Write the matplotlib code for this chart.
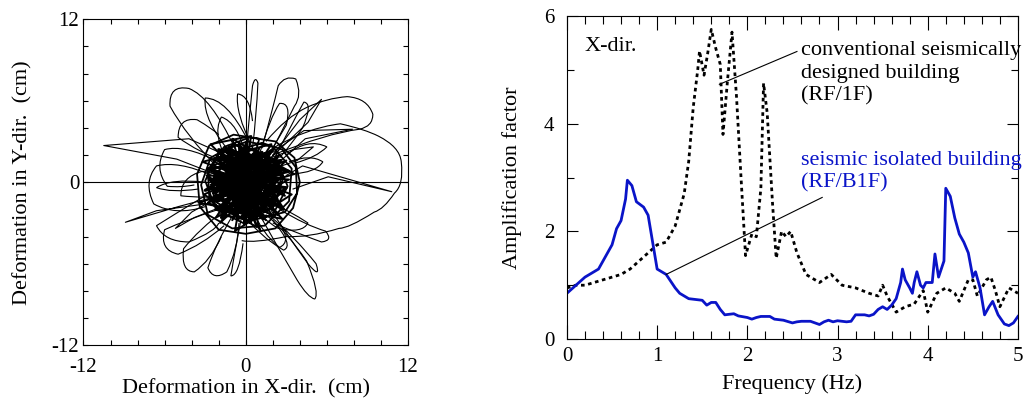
import numpy as np
import matplotlib
matplotlib.use("Agg")
import matplotlib.pyplot as plt
from matplotlib.ticker import MultipleLocator
from matplotlib.path import Path
from matplotlib.patches import PathPatch

plt.rcParams['font.family'] = ['Liberation Serif', 'DejaVu Serif']
plt.rcParams['axes.unicode_minus'] = False

# ---- right panel: amplification factor vs frequency ----
iso_f = [0.0, 0.1, 0.2, 0.3, 0.35, 0.4, 0.45, 0.5, 0.55, 0.6, 0.65, 0.67, 0.72, 0.77,
         0.85, 0.9, 0.95, 1.0, 1.05, 1.1, 1.2, 1.25, 1.3, 1.35, 1.5, 1.55, 1.6, 1.65,
         1.7, 1.75, 1.85, 1.9, 2.0, 2.05, 2.1, 2.15, 2.25, 2.3, 2.4, 2.5, 2.55, 2.6,
         2.7, 2.8, 2.85, 2.9, 2.95, 3.0, 3.1, 3.15, 3.2, 3.3, 3.35, 3.4, 3.45, 3.5,
         3.55, 3.6, 3.65, 3.7, 3.72, 3.75, 3.8, 3.83, 3.85, 3.88, 3.92, 3.95, 3.98,
         4.05, 4.08, 4.12, 4.18, 4.2, 4.25, 4.3, 4.35, 4.4, 4.45, 4.5, 4.53, 4.58,
         4.63, 4.68, 4.72, 4.78, 4.85, 4.9, 4.95, 5.0]
iso_amp = [0.85, 1.0, 1.15, 1.25, 1.3, 1.45, 1.6, 1.75, 2.05, 2.2, 2.6, 2.95, 2.85, 2.55,
           2.45, 2.3, 1.8, 1.3, 1.25, 1.2, 0.95, 0.85, 0.8, 0.75, 0.72, 0.63, 0.68, 0.68,
           0.55, 0.45, 0.47, 0.43, 0.4, 0.37, 0.4, 0.42, 0.42, 0.37, 0.35, 0.3, 0.32, 0.33,
           0.33, 0.27, 0.32, 0.35, 0.32, 0.34, 0.32, 0.33, 0.45, 0.45, 0.43, 0.46, 0.55, 0.6,
           0.55, 0.63, 0.75, 1.05, 1.3, 1.1, 0.95, 0.85, 1.05, 1.25, 1.0, 0.95, 1.05,
           1.05, 1.58, 1.15, 1.45, 2.8, 2.65, 2.25, 1.95, 1.8, 1.6, 1.15, 1.25, 0.95,
           0.45, 0.6, 0.7, 0.45, 0.28, 0.25, 0.3, 0.42]

conv_f = [0.0, 0.1, 0.2, 0.3, 0.4, 0.5, 0.6, 0.7, 0.8, 0.9, 1.0, 1.1, 1.2, 1.3, 1.35,
          1.4, 1.45, 1.47, 1.52, 1.56, 1.6, 1.65, 1.7, 1.73, 1.78, 1.83, 1.88, 1.93,
          1.98, 2.05, 2.1, 2.15, 2.18, 2.22, 2.28, 2.32, 2.38, 2.43, 2.48, 2.55, 2.65,
          2.8, 2.93, 3.05, 3.2, 3.35, 3.45, 3.5, 3.55, 3.65, 3.75, 3.85, 3.95, 4.0,
          4.1, 4.2, 4.3, 4.35, 4.45, 4.5, 4.55, 4.65, 4.7, 4.75, 4.8, 4.9, 5.0]
conv_amp = [0.95, 1.0, 1.0, 1.05, 1.1, 1.15, 1.2, 1.3, 1.45, 1.6, 1.75, 1.8, 2.1, 2.7, 3.3,
            4.3, 5.0, 5.35, 4.9, 5.3, 5.75, 5.4, 5.1, 3.8, 4.8, 5.7, 4.5, 3.0,
            1.55, 1.95, 1.9, 2.8, 4.75, 4.2, 2.5, 1.5, 2.0, 1.9, 2.0, 1.6, 1.2,
            1.05, 1.2, 1.0, 0.95, 0.85, 0.8, 1.0, 0.8, 0.5, 0.6, 0.65, 0.9, 0.5,
            0.85, 0.95, 0.85, 0.7, 1.1, 1.1, 0.8, 1.1, 1.15, 0.9, 0.6, 0.95, 0.85]

# ---- left panel: deformation orbit (cm), traced by hand ----
core = [(0, 0), (1.5, 1.2), (2.8, 0.4), (2.2, -1.5), (0.4, -2.2), (-1.6, -1.4), (-2.4, 0.3),
        (-1.2, 1.9), (0.6, 2.4), (2.3, 1.6), (3.1, -0.3), (2.0, -2.4), (-0.2, -3.0),
        (-2.2, -2.0), (-3.0, 0.1), (-2.0, 2.2), (0.1, 3.0), (2.0, 2.6), (3.4, 1.0),
        (3.2, -1.4), (1.4, -3.2), (-1.0, -3.4), (-2.8, -2.4), (-3.3, -0.2), (-2.6, 1.8),
        (-0.8, 2.8), (1.0, 1.6), (1.6, 0.2), (0.8, -1.2), (-0.6, -1.6), (-1.4, -0.4),
        (-0.8, 0.9), (0.5, 1.1), (1.1, -0.1), (0.3, -0.9), (-0.7, -0.5), (-0.4, 0.6),
        (0.9, 0.8), (1.9, -0.6), (1.0, -2.0), (-0.9, -2.3), (-2.2, -0.9), (-1.9, 1.1),
        (-0.3, 1.9), (1.6, 1.9), (2.6, 0.9), (2.5, -0.9), (1.2, -1.7), (-0.3, -1.2),
        (-1.0, 0.1), (-0.2, 1.3), (1.3, 1.0), (2.0, -0.1), (1.5, -1.2), (0.1, -1.6),
        (-1.3, -1.1), (-1.6, 0.5), (-0.6, 1.5), (0.8, 1.7), (2.0, 0.8), (2.6, -0.5),
        (1.8, -1.9), (0.2, -2.6), (-1.5, -2.5), (-2.7, -1.1), (-2.8, 0.9), (-1.6, 2.6),
        (0.3, 3.3), (2.2, 3.0), (3.6, 1.8), (4.0, 0.0), (3.5, -1.9), (2.2, -3.4),
        (0.0, -3.8), (-2.0, -3.5), (-3.4, -1.8), (-3.6, 0.6), (-2.7, 2.7), (-0.9, 3.5),
        (1.0, 3.2), (0.4, 1.0), (-0.2, -0.2), (0.6, -0.6), (0.2, 0.4), (-0.5, -0.9),
        (-0.1, -2.0), (1.3, -2.6), (2.9, -2.2), (3.8, -0.8), (3.7, 1.1), (2.7, 2.4),
        (1.2, 2.9), (-0.4, 2.4), (-1.2, 1.2), (-1.0, -0.8), (-0.1, -1.8), (0.7, -0.3),
        (-0.6, 0.3), (0.3, 0.7), (-0.3, -0.6), (0.5, 0.1), (-1.1, -0.2), (0.0, 1.6),
        (1.8, 1.3), (2.2, -1.1), (0.2, -2.9), (-2.4, -1.6), (-2.3, 1.3), (0.5, 2.0),
        (1.4, 0.5), (0.9, -0.8), (-0.4, -1.3), (-1.8, 0.0), (-0.2, 0.9), (1.0, 0.3)]

core_cross = [(-2.5, -0.5), (2.8, 0.9), (-1.8, 2.0), (1.5, -2.8), (-2.6, 1.0), (2.9, -1.0),
              (-0.5, 2.6), (0.4, -3.0), (-2.8, -1.5), (2.5, 2.0), (-1.0, -2.8), (1.0, 2.5),
              (-2.2, -2.6), (3.2, 0.2), (-2.9, 0.5), (2.0, -2.5), (-1.4, 2.4), (0.9, -2.4),
              (-2.0, -1.2), (2.4, 1.3), (-1.2, -2.0), (1.8, 2.2), (-2.4, 1.6), (2.6, -1.8),
              (-0.2, 2.2), (-0.6, -2.8), (2.2, 0.2), (-2.6, -0.2), (1.2, 1.9), (-1.5, -1.8),
              (2.0, -1.4), (-1.7, 1.4), (0.6, -1.9), (0.0, 2.4), (-2.3, -1.0), (2.7, 0.6),
              (-0.9, 1.8), (1.4, -2.2), (-2.0, 0.2), (1.6, 1.4), (-0.4, -2.3), (2.3, -0.6),
              (-1.3, 2.7), (0.8, -3.3), (-3.1, -0.9), (3.0, 1.6), (-1.9, -3.0), (1.9, 2.8),
              (-3.2, 1.5), (3.4, -0.9), (-0.8, -3.6), (0.4, 3.4), (-2.6, 2.8), (2.7, -2.7),
              (-3.5, -1.5), (3.6, 0.6), (-1.0, 3.2), (1.1, -3.6), (-2.2, 2.0), (2.2, -1.0),
              (-1.1, 0.5), (1.0, -0.5), (-0.5, 1.1), (0.6, -1.3), (-1.6, -0.6), (1.7, 0.7),
              (-0.7, -1.7), (0.4, 1.6), (-1.5, 0.9), (1.3, -1.5), (0.1, 0.0)]

core_dense = [(-2.2, 0.8), (2.4, -0.6), (-1.6, -1.9), (1.2, 2.2), (-2.4, -0.8), (2.2, 1.0),
              (-0.8, -2.4), (0.2, 2.4), (-2.0, 1.6), (2.0, -1.8), (-1.2, 2.0), (1.6, -2.2),
              (-2.5, 0.0), (2.5, 0.3), (-0.2, -2.5), (-0.4, 2.3), (-2.1, -1.4), (1.8, 1.7),
              (-1.7, 1.2), (1.4, -1.6), (-2.3, 0.4), (2.3, -1.2), (-0.6, -2.1), (0.8, 2.3),
              (-1.9, -0.3), (1.9, 0.4), (-1.0, 1.7), (1.0, -2.4), (-2.2, -2.0), (2.6, 1.6),
              (-2.8, 1.0), (2.8, -2.0), (-0.5, 2.8), (0.4, -2.8), (-1.4, 0.0), (1.5, 0.0),
              (-0.9, -1.2), (0.9, 1.2), (-1.1, 1.3), (1.1, -1.0), (-2.6, -1.4), (2.7, 1.0),
              (-1.5, 2.5), (1.3, -2.7), (-2.7, 0.2), (3.0, -0.4), (-0.1, -3.1), (0.1, 3.0),
              (-1.8, -2.6), (2.0, 2.4), (-3.0, -0.6), (3.2, 0.8), (-2.0, 2.4), (2.4, -2.4),
              (0.0, 0.0)]

spikes = [
    [(-1.5, 2.0), (-4.2, 3.2), (-10.5, 2.7), (-5.1, 1.7), (-2.0, 0.5)],
    [(2.0, 2.0), (4.0, 4.6), (5.6, 6.1), (4.6, 4.4), (1.0, 1.0)],
    [(3.0, 0.5), (4.2, 1.2), (10.8, -0.7), (6.1, 0.4), (3.5, -0.5)],
    [(-2.0, -1.0), (-5.0, -1.8), (-8.9, -2.95), (-6.6, -2.1), (-3.0, -1.6)],
    [(2.0, 2.2), (4.3, 3.8), (7.9, 3.9), (4.4, 3.2), (2.5, 1.5)],
    [(1.0, 1.5), (3.5, 2.4), (5.0, 2.6), (3.8, 1.6), (1.5, 0.8)],
    [(-1.0, -1.5), (-3.8, -2.6), (-5.2, -3.4), (-4.0, -2.2), (-1.5, -0.8)],
]

loops = [
    [(-2.0, 1.0), (-4.4, 3.4), (-5.6, 5.6), (-5.7, 7.2), (-4.2, 6.9),
     (-2.6, 6.3), (-0.8, 2.5)],
    [(-1.0, 2.0), (-3.2, 4.6), (-3.0, 6.2), (-1.4, 6.2), (0.2, 3.0)],
    [(0.0, 2.0), (0.3, 5.2), (0.5, 7.1), (0.7, 7.9), (0.9, 7.3), (0.8, 5.0), (0.5, 2.5)],
    [(1.2, 2.5), (2.0, 5.4), (2.4, 7.1), (2.9, 7.9), (3.7, 7.6), (4.2, 6.4), (3.6, 5.6),
     (2.7, 3.8), (1.5, 1.5)],
    [(1.5, 3.0), (3.0, 4.8), (4.5, 5.5), (6.0, 6.2), (7.5, 6.3), (9.0, 6.2), (9.4, 5.0),
     (9.4, 4.1), (8.4, 3.9), (6.0, 3.6), (2.0, 2.0)],
    [(2.0, 2.5), (4.5, 4.0), (7.0, 4.3), (8.8, 3.9), (9.8, 3.4), (11.4, 2.6), (11.5, 1.5),
     (11.7, -0.2), (11.0, -0.8), (10.2, -2.0), (9.5, -2.2), (7.6, -3.4), (6.9, -3.4),
     (4.6, -4.1), (3.0, -4.0), (0.6, -4.5), (-0.3, -4.3)],
    [(3.2, 1.5), (4.8, 2.1), (5.7, 1.5), (5.2, 0.7), (3.4, 0.6)],
    [(3.0, 2.0), (4.6, 3.3), (6.0, 2.6), (5.2, 1.8), (3.6, 1.4)],
    [(1.5, -1.5), (3.0, -3.8), (4.6, -6.0), (5.6, -7.2), (5.2, -6.0), (3.6, -4.0), (1.8, -2.5)],
    [(0.8, -2.0), (2.2, -4.5), (3.8, -7.2), (4.6, -8.5), (5.1, -8.6), (5.5, -8.2),
     (4.5, -5.8), (3.0, -3.6), (1.5, -2.4)],
    [(2.5, -2.0), (4.5, -3.2), (5.9, -3.6), (6.5, -4.3), (5.6, -4.4), (4.2, -3.9), (2.0, -3.0)],
    [(-2.5, 0.5), (-5.0, 1.6), (-6.6, 1.2), (-7.6, 0.0), (-6.8, -1.6), (-5.2, -2.5), (-3.0, -1.8)],
    [(-3.0, 0.0), (-5.5, 0.3), (-6.6, -0.4), (-5.5, -0.8), (-3.5, -0.5)],
    [(-2.0, 1.5), (-4.6, 2.8), (-6.0, 2.4), (-6.8, 1.0), (-5.8, -0.3), (-4.8, -0.4), (-3.8, -0.2)],
    [(-1.5, -2.0), (-3.5, -3.5), (-4.6, -4.9), (-4.8, -6.6), (-3.8, -6.6), (-2.6, -5.8), (-1.8, -4.0)],
    [(-1.0, -2.5), (-2.2, -4.5), (-2.8, -6.3), (-2.4, -7.3), (-1.4, -6.6), (-0.6, -5.0), (-0.5, -3.0)],
    [(-0.3, -2.5), (-0.8, -5.0), (-1.1, -6.9), (-0.5, -6.9), (-0.2, -4.5)],
    [(-2.0, -2.0), (-4.5, -2.8), (-6.0, -3.5), (-6.4, -5.0), (-5.0, -5.3), (-3.2, -4.6), (-1.6, -3.2)],
    [(-3.0, -1.0), (-5.5, -2.5), (-6.6, -3.2), (-6.0, -4.4), (-4.2, -4.4), (-2.2, -3.6), (-2.0, -3.0)],
    [(-1.5, 1.5), (-3.5, 2.2), (-5.0, 3.3), (-5.0, 4.8), (-3.6, 4.6), (-2.4, 3.9), (-2.0, 3.5)],
    [(1.0, 2.0), (1.8, 4.8), (2.5, 5.8), (3.4, 5.9), (3.0, 4.2), (2.4, 3.2), (1.8, 2.2)],
    [(0.5, 2.5), (-0.8, 5.2), (-0.6, 6.5), (0.3, 6.4), (0.5, 4.5)],
    [(2.0, 1.5), (3.5, 4.5), (4.3, 5.9), (5.0, 5.8), (4.2, 4.0), (3.4, 2.8), (2.5, 1.8)],
    [(0.5, -2.0), (1.2, -3.8), (2.5, -4.8), (3.4, -4.4), (2.5, -3.0)],
    [(-0.5, -2.0), (1.0, -4.0), (2.8, -5.0), (3.6, -4.7), (2.0, -2.8)],
    [(-1.0, 1.0), (-2.6, 3.4), (-1.8, 4.8), (-0.6, 4.4), (0.0, 2.0)],
    [(1.0, -1.0), (3.4, -2.2), (4.6, -3.0), (4.2, -3.8), (2.4, -3.4), (1.0, -2.6), (0.5, -1.5)],
    [(-1.0, -1.0), (-3.0, -1.2), (-4.8, -1.0), (-4.8, 0.4), (-3.2, 0.8), (-2.0, 0.6), (-1.2, 0.2)],
]


def smooth_loop(pts):
    # typed points alternate on-curve / control for quadratic segments
    if (len(pts) - 1) % 2:
        pts = pts + [pts[-1]]
    codes = [Path.MOVETO] + [Path.CURVE3] * (len(pts) - 1)
    return PathPatch(Path(pts, codes), fill=False, edgecolor='black', lw=0.8)


fig = plt.figure(figsize=(10.28, 4.09), dpi=100)

# left panel
ax1 = fig.add_axes([0.0812, 0.156, 0.3157, 0.797])
ax1.axhline(0, color='black', lw=0.8)
ax1.axvline(0, color='black', lw=0.8)
cx, cy = zip(*core)
ax1.plot(cx, cy, color='black', lw=1.3)
kx, ky = zip(*core_cross)
ax1.plot(kx, ky, color='black', lw=1.4)
dx, dy = zip(*core_dense)
ax1.plot(dx, dy, color='black', lw=2.2)
for sp in spikes:
    sx, sy = zip(*sp)
    ax1.plot(sx, sy, color='black', lw=0.8)
for lp in loops:
    ax1.add_patch(smooth_loop(lp))
ax1.set_xlim(-12, 12)
ax1.set_ylim(-12, 12)
ax1.set_xticks([-12, 0, 12])
ax1.set_yticks([-12, 0, 12])
ax1.xaxis.set_minor_locator(MultipleLocator(2))
ax1.yaxis.set_minor_locator(MultipleLocator(2))
ax1.tick_params(which='both', direction='in', top=True, right=True, length=3.5,
                width=0.8, labelsize=15)
ax1.tick_params(axis='x', pad=9)
ax1.tick_params(axis='y', pad=3)
ax1.set_xlabel('Deformation in X-dir.  (cm)', fontsize=16, labelpad=2)
ax1.set_ylabel('Deformation in Y-dir.  (cm)', fontsize=16, labelpad=14)

# right panel
ax2 = fig.add_axes([0.5515, 0.171, 0.4387, 0.790])
ax2.plot(conv_f, conv_amp, color='black', lw=2.0, linestyle=(0, (1.3, 1.3)))
ax2.plot(iso_f, iso_amp, color='#0a14c8', lw=2.0)
ax2.set_xlim(0, 5)
ax2.set_ylim(0, 6)
ax2.set_xticks([0, 1, 2, 3, 4, 5])
ax2.set_yticks([0, 2, 4, 6])
ax2.xaxis.set_minor_locator(MultipleLocator(0.2))
ax2.yaxis.set_minor_locator(MultipleLocator(1))
ax2.tick_params(which='both', direction='in', top=True, right=True, width=0.8,
                labelsize=15)
ax2.tick_params(axis='x', which='major', length=10, pad=6)
ax2.tick_params(axis='x', which='minor', length=5.5)
ax2.tick_params(axis='y', which='major', length=8, pad=9)
ax2.tick_params(axis='y', which='minor', length=5)
ax2.set_xlabel('Frequency (Hz)', fontsize=16, labelpad=6)
ax2.set_ylabel('Amplification factor', fontsize=16, labelpad=16)

ax2.text(0.2, 5.43, 'X-dir.', fontsize=16, va='center', ha='left')
ax2.plot([1.69, 2.55], [4.73, 5.34], color='black', lw=0.8)
ax2.text(2.6, 5.54, 'conventional seismically\ndesigned building\n(RF/1F)',
         fontsize=16, va='top', ha='left', linespacing=1.28, clip_on=False)
ax2.plot([1.1, 2.83], [1.2, 2.63], color='black', lw=0.8)
ax2.text(2.6, 3.5, 'seismic isolated building\n(RF/B1F)', fontsize=16,
         va='top', ha='left', linespacing=1.28, color='#0a14c8', clip_on=False)

fig.savefig('out.png', dpi=100)
